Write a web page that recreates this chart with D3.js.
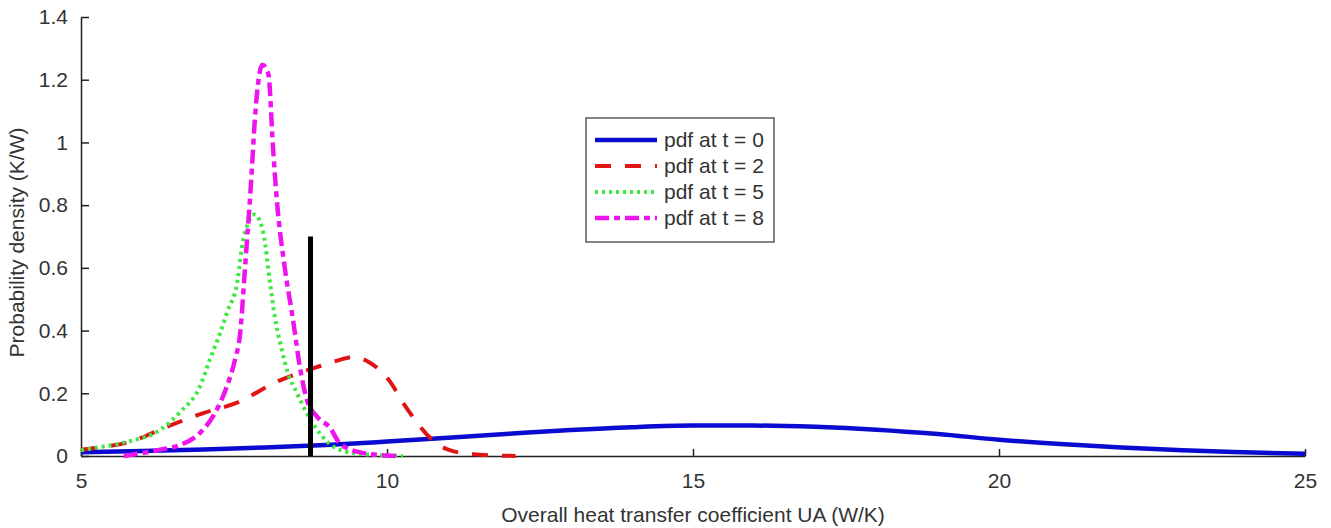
<!DOCTYPE html>
<html>
<head>
<meta charset="utf-8">
<script src="https://cdn.jsdelivr.net/npm/d3@7"></script>
<style>
  html, body { margin: 0; padding: 0; background: #fff; }
  svg { display: block; }
  text { font-family: "Liberation Sans", Arial, sans-serif; fill: #333; }
</style>
</head>
<body>
<svg id="chart" width="1331" height="528"></svg>
<script>
// Probability density of UA at successive times
const ua0 = [5, 6, 7, 8, 9, 10, 11, 12, 13, 14, 15, 16, 17, 18, 19, 20, 21, 22, 23, 24, 25];
const pdf0 = [0.012, 0.016, 0.021, 0.027, 0.035, 0.046, 0.058, 0.071, 0.083, 0.092, 0.097, 0.097, 0.093, 0.084, 0.07, 0.052, 0.038, 0.027, 0.018, 0.012, 0.007];

const ua2 = [5, 5.2, 5.8, 6.4, 7.0, 7.55, 8.2, 8.8, 9.2, 9.45, 9.7, 10.0, 10.33, 10.75, 11.0, 11.4, 12.1];
const pdf2 = [0.02, 0.025, 0.045, 0.093, 0.137, 0.17, 0.237, 0.28, 0.305, 0.316, 0.3, 0.25, 0.15, 0.05, 0.02, 0.006, 0.0];

const ua5 = [5, 5.2, 5.75, 6.29, 6.62, 6.94, 7.11, 7.27, 7.4, 7.55, 7.65, 7.84, 7.98, 8.09, 8.17, 8.28, 8.38, 8.53, 8.69, 8.9, 9.12, 9.5, 10.26];
const pdf5 = [0.018, 0.025, 0.045, 0.083, 0.14, 0.22, 0.31, 0.39, 0.465, 0.55, 0.69, 0.77, 0.71, 0.55, 0.44, 0.34, 0.265, 0.2, 0.137, 0.073, 0.03, 0.008, 0.0];

const ua8 = [5.7, 6.29, 6.62, 6.94, 7.19, 7.38, 7.52, 7.6, 7.68, 7.76, 7.87, 7.96, 8.06, 8.14, 8.2, 8.33, 8.46, 8.58, 8.69, 8.86, 9.07, 9.23, 9.6, 10.16];
const pdf8 = [0.0, 0.02, 0.035, 0.073, 0.137, 0.22, 0.31, 0.39, 0.6, 0.816, 1.145, 1.248, 1.22, 0.976, 0.816, 0.6, 0.44, 0.28, 0.18, 0.125, 0.09, 0.04, 0.01, 0.0];

const seriesNames = ["pdf at t = 0", "pdf at t = 2", "pdf at t = 5", "pdf at t = 8"];

// reference marker
const markerUA = [8.75];
const markerHeight = [0.7];

const xTicks = [5, 10, 15, 20, 25];
const yTicks = [0, 0.2, 0.4, 0.6, 0.8, 1, 1.2, 1.4];

const svg = d3.select("#chart");
const plotLeft = 81, plotRight = 1305, plotTop = 17, plotBottom = 456;
const fontSize = "21px";

const x = d3.scaleLinear().domain([5, 25]).range([plotLeft, plotRight]);
const y = d3.scaleLinear().domain([0, 1.4]).range([plotBottom, plotTop]);

// axes
const xAxis = d3.axisBottom(x).tickValues(xTicks).tickSizeInner(-7).tickSizeOuter(0).tickPadding(17).tickFormat(d3.format("d"));
const yAxis = d3.axisLeft(y).tickValues(yTicks).tickSizeInner(-8).tickSizeOuter(0).tickPadding(13).tickFormat(d => String(d));

const gx = svg.append("g").attr("transform", `translate(0,${plotBottom})`).call(xAxis);
const gy = svg.append("g").attr("transform", `translate(${plotLeft},0)`).call(yAxis);
[gx, gy].forEach(g => {
  g.select(".domain").attr("stroke", "#222").attr("stroke-width", 1.5);
  g.selectAll(".tick line").attr("stroke", "#222").attr("stroke-width", 1.5);
  g.selectAll(".tick text").style("font-size", fontSize).attr("fill", "#333")
    .style("font-family", "'Liberation Sans', Arial, sans-serif");
});

svg.append("text")
  .attr("x", (plotLeft + plotRight) / 2).attr("y", 522)
  .attr("text-anchor", "middle").style("font-size", fontSize)
  .text("Overall heat transfer coefficient UA (W/K)");

svg.append("text")
  .attr("transform", `translate(24,${(plotTop + plotBottom) / 2 + 6}) rotate(-90)`)
  .attr("text-anchor", "middle").style("font-size", fontSize)
  .text("Probability density (K/W)");

const line = d3.line().x(d => x(d[0])).y(d => y(d[1])).curve(d3.curveMonotoneX);

const styles = [
  { color: "#0a0ad0", width: 4.5, dash: null },
  { color: "#e01414", width: 4, dash: "16,14" },
  { color: "#3ee83e", width: 4, dash: "3,4" },
  { color: "#ee14ee", width: 4.5, dash: "14,5,6,5" }
];
const data = [
  d3.zip(ua0, pdf0),
  d3.zip(ua2, pdf2),
  d3.zip(ua5, pdf5),
  d3.zip(ua8, pdf8)
];

// draw t=0 first, then narrower curves on top
data.forEach((d, i) => {
  const s = styles[i];
  svg.append("path")
    .datum(d)
    .attr("fill", "none")
    .attr("stroke", s.color)
    .attr("stroke-width", s.width)
    .attr("stroke-linecap", "butt")
    .attr("stroke-linejoin", "round")
    .attr("stroke-dasharray", s.dash)
    .attr("d", line);
});

// vertical marker
svg.selectAll(".marker").data(markerUA).enter().append("line")
  .attr("class", "marker")
  .attr("x1", d => x(d)).attr("x2", d => x(d))
  .attr("y1", y(0)).attr("y2", (d, i) => y(markerHeight[i]))
  .attr("stroke", "#000").attr("stroke-width", 5);

// legend
const lg = svg.append("g").attr("transform", "translate(586,118)");
lg.append("rect").attr("width", 188).attr("height", 124)
  .attr("fill", "#fff").attr("stroke", "#333").attr("stroke-width", 1.2);
seriesNames.forEach((name, i) => {
  const s = styles[i];
  const yy = 22 + i * 26;
  lg.append("line")
    .attr("x1", 9).attr("x2", 71).attr("y1", yy).attr("y2", yy)
    .attr("stroke", s.color).attr("stroke-width", s.width)
    .attr("stroke-dasharray", s.dash);
  lg.append("text").attr("x", 78).attr("y", yy + 7)
    .style("font-size", fontSize).attr("fill", "#222").text(name);
});
</script>
</body>
</html>
